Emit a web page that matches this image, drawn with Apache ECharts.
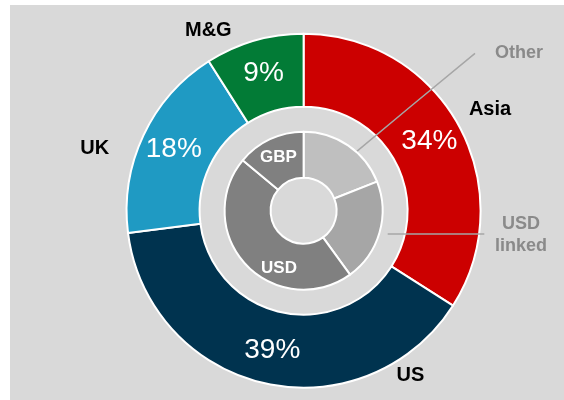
<!DOCTYPE html>
<html>
<head>
<meta charset="utf-8">
<script src="https://cdn.jsdelivr.net/npm/echarts@6/dist/echarts.min.js"></script>
<style>
  html, body { margin: 0; padding: 0; background: #fff; }
  #chart { position: absolute; left: 10px; top: 5px; width: 554px; height: 395px; background: #d9d9d9; }
</style>
</head>
<body>
<div id="chart"></div>
<script>
// ----- data -----
var regions = ['Asia', 'US', 'UK', 'M&G'];
var regionShares = [34, 39, 18, 9];
var regionColors = ['#cc0000', '#00334f', '#1f9ac3', '#027b36'];

var currencies = ['Other', 'USD linked', 'USD', 'GBP'];
var currencyShares = [19, 21, 46, 14];
var currencyColors = ['#bfbfbf', '#a6a6a6', '#808080', '#808080'];

// label spots (chart pixels), not data
var regionNamePos = [[480, 104.5], [400.5, 370], [84.8, 143.4], [198.3, 25]];
var currencyLabelPos = {
  'Other': { x: 509, y: 48, line: [[339.3, 152.7], [400, 102], [465, 48.3]] },
  'USD linked': { x: 511, y: 230, line: [[377.7, 229], [420, 229], [474.3, 229]] },
  'USD': { x: 269, y: 263.3 }
};

var center = [293.6, 205.7];
var font = '"Liberation Sans", Arial, sans-serif';

var chart = echarts.init(document.getElementById('chart'));

var regionData = regions.map(function(name, i) {
  return { name: name, value: regionShares[i], itemStyle: { color: regionColors[i] } };
});

var currencyData = currencies.map(function(name, i) {
  var d = { name: name, value: currencyShares[i], itemStyle: { color: currencyColors[i] } };
  if (name === 'Other' || name === 'USD linked') {
    d.label = { position: 'outside', color: '#8a8a8a', fontSize: 18, formatter: name === 'USD linked' ? 'USD\nlinked' : '{b}' };
    d.labelLine = { show: true, lineStyle: { color: '#a6a6a6', width: 1.5 } };
  }
  return d;
});

chart.setOption({
  animation: false,
  series: [
    {
      // region names outside the ring
      type: 'pie',
      silent: true,
      center: center,
      radius: [104, 177],
      startAngle: 90,
      itemStyle: { color: 'transparent', borderWidth: 0 },
      label: { show: true, position: 'outside', formatter: '{b}', color: '#000', fontFamily: font, fontWeight: 'bold', fontSize: 20, align: 'center', verticalAlign: 'middle' },
      labelLine: { show: false },
      labelLayout: function(p) {
        var pos = regionNamePos[p.dataIndex];
        return { x: pos[0], y: pos[1], align: 'center', verticalAlign: 'middle' };
      },
      data: regions.map(function(name, i) { return { name: name, value: regionShares[i] }; })
    },
    {
      type: 'pie',
      silent: true,
      center: center,
      radius: [104, 177],
      startAngle: 90,
      itemStyle: { borderColor: '#fff', borderWidth: 2 },
      label: { show: true, position: 'inside', formatter: '{c}%', color: '#fff', fontFamily: font, fontSize: 28 },
      labelLine: { show: false },
      data: regionData
    },
    {
      type: 'pie',
      silent: true,
      z: 5,
      center: center,
      radius: [33, 79],
      startAngle: 90,
      itemStyle: { borderColor: '#fff', borderWidth: 2 },
      label: { show: true, position: 'inside', formatter: '{b}', color: '#fff', fontFamily: font, fontWeight: 'bold', fontSize: 17, lineHeight: 22, align: 'center' },
      labelLine: { show: false },
      labelLayout: function(p) {
        var pos = currencyLabelPos[currencies[p.dataIndex]];
        if (!pos) return {};
        var r = { x: pos.x, y: pos.y, align: 'center', verticalAlign: 'middle' };
        if (pos.line) r.labelLinePoints = pos.line;
        return r;
      },
      data: currencyData
    }
  ]
});
</script>
</body>
</html>
